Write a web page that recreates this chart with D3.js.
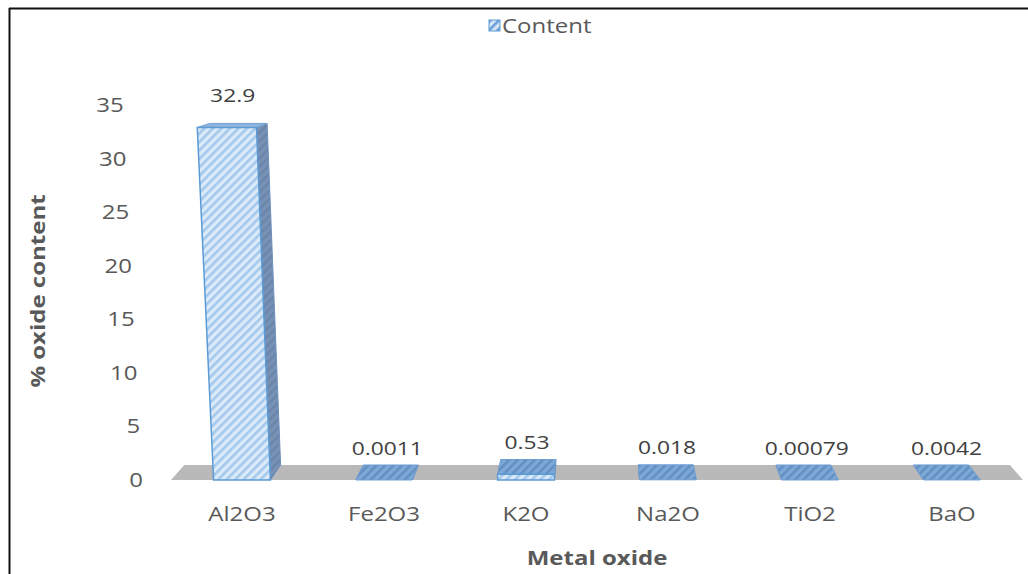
<!DOCTYPE html>
<html>
<head>
<meta charset="utf-8">
<script src="https://cdn.jsdelivr.net/npm/d3@7"></script>
<style>
body{margin:0;background:#fff;}
text{font-family:"Open Sans",sans-serif;}
</style>
</head>
<body>
<svg id="chart" width="1028" height="574"></svg>
<script>
var categories = ["Al2O3", "Fe2O3", "K2O", "Na2O", "TiO2", "BaO"];
var values = [32.9, 0.0011, 0.53, 0.018, 0.00079, 0.0042];
var valueLabels = ["32.9", "0.0011", "0.53", "0.018", "0.00079", "0.0042"];
var yTicks = [0, 5, 10, 15, 20, 25, 30, 35];
var seriesName = "Content";
var xTitle = "Metal oxide";
var yTitle = "% oxide content";

var svg = d3.select("#chart");
var defs = svg.append("defs");
var stretch = 1.2; // the source font runs wider than Open Sans

// hatch patterns
function hatch(id, bg, fg){
    var p = defs.append("pattern")
        .attr("id", id)
        .attr("patternUnits", "userSpaceOnUse")
        .attr("width", 6).attr("height", 6)
        .attr("patternTransform", "rotate(45)");
    p.append("rect").attr("width", 6).attr("height", 6).attr("fill", bg);
    p.append("rect").attr("width", 2.6).attr("height", 6).attr("fill", fg);
}
hatch("hFront", "#dbeaf8", "#a3c8ec");
hatch("hTop", "#7ea8d6", "#6190c2");
hatch("hSide", "#7892b6", "#6b86ab");
hatch("hLegend", "#d6e6f7", "#6a9fd6");

// scales
var x = d3.scaleBand().domain(categories).range([171, 1023])
    .paddingInner(0.6).paddingOuter(0.3);
var y = d3.scaleLinear().domain([0, 35]).range([480, 105]);
var y0 = y(0);

// simple perspective: depth vanishing point + slight lean of verticals
var vx = 600, vy = -4, q = 0.031, lean = 0.00012;
function proj(px, hh, z){
    var sx = vx + (px - vx) * (1 + lean * hh);
    var sy = y0 - hh;
    return [sx + z * q * (vx - sx), sy + z * q * (vy - sy)];
}
function poly(pts){ return pts.map(function(p){ return p.join(","); }).join(" "); }
function at(px, py, rot){
    return "translate(" + px + "," + py + ")" + (rot ? " rotate(" + rot + ")" : "") + " scale(" + stretch + ",1)";
}

// frame (only top/left edges show in the crop)
svg.append("line").attr("x1", 9).attr("y1", 8.5).attr("x2", 1028).attr("y2", 8.5)
    .attr("stroke", "#111").attr("stroke-width", 2);
svg.append("line").attr("x1", 9.5).attr("y1", 8).attr("x2", 9.5).attr("y2", 574)
    .attr("stroke", "#111").attr("stroke-width", 2);

// floor
var r = x.range();
svg.append("polygon")
    .attr("points", poly([proj(r[0], 0, 0), proj(r[1], 0, 0), proj(r[1], 0, 1), proj(r[0], 0, 1)]))
    .attr("fill", "#b9b9b9");

// y tick labels
svg.selectAll("text.ytick")
    .data(yTicks)
    .enter()
    .append("text")
    .attr("class", "ytick")
    .attr("transform", function(d){ return at(proj(r[0], y0 - y(d), 0)[0] - 28, y(d)); })
    .attr("dy", "0.35em")
    .attr("text-anchor", "end")
    .attr("font-size", 20)
    .attr("fill", "#595959")
    .text(function(d){ return d; });

// bars
var bars = svg.selectAll("g.bar")
    .data(values)
    .enter()
    .append("g")
    .attr("class", "bar");

bars.each(function(d, i){
    var g = d3.select(this);
    var x1 = x(categories[i]), x2 = x1 + x.bandwidth();
    var hh = y0 - y(d);
    var cx = x1 + x.bandwidth() / 2;
    // side face: right side if left of vanishing point, else left side
    var sideX = cx < vx ? x2 : x1;
    g.append("polygon")
        .attr("points", poly([proj(sideX, 0, 0), proj(sideX, hh, 0), proj(sideX, hh, 1), proj(sideX, 0, 1)]))
        .attr("fill", "url(#hSide)")
        .attr("stroke", "#6d8fbd").attr("stroke-width", 1);
    // top face
    g.append("polygon")
        .attr("points", poly([proj(x1, hh, 0), proj(x2, hh, 0), proj(x2, hh, 1), proj(x1, hh, 1)]))
        .attr("fill", hh > 20 ? "#8fb5de" : "url(#hTop)")
        .attr("stroke", "#6f9fd4").attr("stroke-width", 1);
    // front face
    if(hh > 0.5){
        g.append("polygon")
            .attr("points", poly([proj(x1, 0, 0), proj(x2, 0, 0), proj(x2, hh, 0), proj(x1, hh, 0)]))
            .attr("fill", "url(#hFront)")
            .attr("stroke", "#5b9bd5").attr("stroke-width", 1.5);
    }
});

// value labels
svg.selectAll("text.vlabel")
    .data(values)
    .enter()
    .append("text")
    .attr("class", "vlabel")
    .attr("transform", function(d, i){
        return at(proj(x(categories[i]) + x.bandwidth() / 2, y0 - y(d), 0.5)[0], y(d) - 32);
    })
    .attr("dy", "0.35em")
    .attr("text-anchor", "middle")
    .attr("font-size", 19)
    .attr("fill", "#404040")
    .text(function(d, i){ return valueLabels[i]; });

// category labels
svg.selectAll("text.xtick")
    .data(categories)
    .enter()
    .append("text")
    .attr("class", "xtick")
    .attr("transform", function(d){ return at(x(d) + x.bandwidth() / 2, 514); })
    .attr("dy", "0.35em")
    .attr("text-anchor", "middle")
    .attr("font-size", 20)
    .attr("fill", "#595959")
    .text(function(d){ return d; });

// axis titles
svg.append("text")
    .attr("transform", at(597, 558))
    .attr("dy", "0.35em")
    .attr("text-anchor", "middle")
    .attr("font-size", 20).attr("font-weight", "bold")
    .attr("fill", "#595959")
    .text(xTitle);
svg.append("text")
    .attr("transform", at(38, 291, -90))
    .attr("dy", "0.35em")
    .attr("text-anchor", "middle")
    .attr("font-size", 20).attr("font-weight", "bold")
    .attr("fill", "#595959")
    .text(yTitle);

// legend
var legend = svg.append("g").attr("transform", "translate(489,20)");
legend.append("rect").attr("width", 11).attr("height", 11)
    .attr("fill", "url(#hLegend)").attr("stroke", "#5b9bd5").attr("stroke-width", 1);
legend.append("text").attr("transform", at(13, 6)).attr("dy", "0.35em")
    .attr("font-size", 20).attr("fill", "#595959")
    .text(seriesName);
</script>
</body>
</html>
